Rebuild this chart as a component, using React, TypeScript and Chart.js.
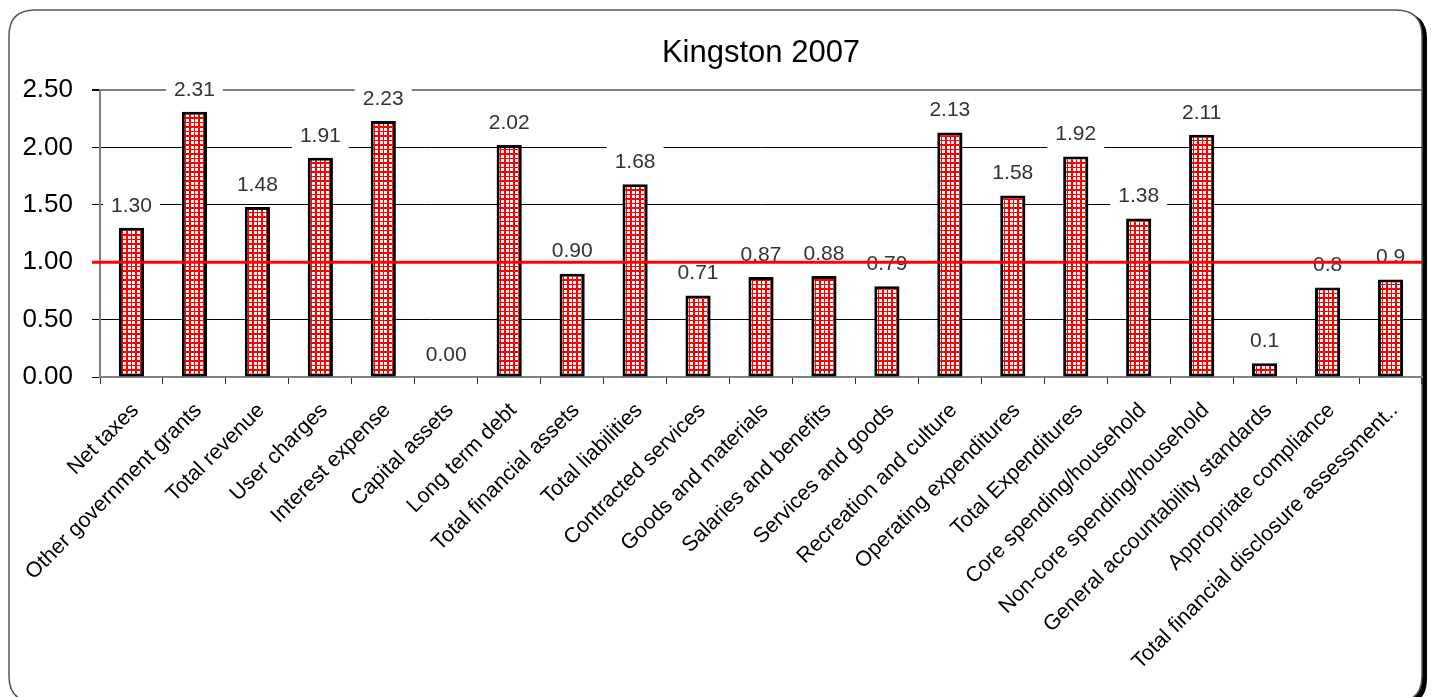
import React, { useEffect, useRef } from "react";
import { Chart, registerables } from "chart.js";

Chart.register(...registerables);

const TITLE = "Kingston 2007";

const categories = [
  "Net taxes",
  "Other government grants",
  "Total revenue",
  "User charges",
  "Interest expense",
  "Capital assets",
  "Long term debt",
  "Total financial assets",
  "Total liabilities",
  "Contracted services",
  "Goods and materials",
  "Salaries and benefits",
  "Services and goods",
  "Recreation and culture",
  "Operating expenditures",
  "Total Expenditures",
  "Core spending/household",
  "Non-core spending/household",
  "General accountability standards",
  "Appropriate compliance",
  "Total financial disclosure assessment..",
];

const values = [
  1.3, 2.31, 1.48, 1.91, 2.23, 0.0, 2.02, 0.9, 1.68, 0.71, 0.87, 0.88, 0.79,
  2.13, 1.58, 1.92, 1.38, 2.11, 0.12, 0.78, 0.85,
];

const valueLabels = [
  "1.30", "2.31", "1.48", "1.91", "2.23", "0.00", "2.02", "0.90", "1.68",
  "0.71", "0.87", "0.88", "0.79", "2.13", "1.58", "1.92", "1.38", "2.11",
  "0.1", "0.8", "0.9",
];

const Y_MIN = 0;
const Y_MAX = 2.5;
const Y_STEP = 0.5;
const REFERENCE_VALUE = 1.0;

const FONT = '"Liberation Sans", Arial, sans-serif';

function makePattern(): CanvasPattern | string {
  const c = document.createElement("canvas");
  c.width = 9;
  c.height = 9;
  const g = c.getContext("2d");
  if (!g) return "#ff0000";
  g.fillStyle = "#ff0000";
  g.fillRect(0, 0, 9, 9);
  g.fillStyle = "#ffffff";
  const cells = [
    [2, 3],
    [6, 3],
  ];
  for (const [x0, w] of cells) {
    for (const [y0, h] of cells) {
      g.fillRect(x0, y0, w, h);
    }
  }
  return g.createPattern(c, "repeat") || "#ff0000";
}

function roundRectPath(
  ctx: CanvasRenderingContext2D,
  x: number,
  y: number,
  w: number,
  h: number,
  r: number
) {
  ctx.beginPath();
  ctx.moveTo(x + r, y);
  ctx.lineTo(x + w - r, y);
  ctx.quadraticCurveTo(x + w, y, x + w, y + r);
  ctx.lineTo(x + w, y + h - r);
  ctx.quadraticCurveTo(x + w, y + h, x + w - r, y + h);
  ctx.lineTo(x + r, y + h);
  ctx.quadraticCurveTo(x, y + h, x, y + h - r);
  ctx.lineTo(x, y + r);
  ctx.quadraticCurveTo(x, y, x + r, y);
  ctx.closePath();
}

const framePlugin = {
  id: "frame",
  beforeDraw(chart: any) {
    const ctx = chart.ctx as CanvasRenderingContext2D;
    ctx.save();
    ctx.fillStyle = "#ffffff";
    ctx.fillRect(0, 0, chart.width, chart.height);
    // shadow
    roundRectPath(ctx, 14, 13, 1413, 692, 26);
    ctx.fillStyle = "#000000";
    ctx.fill();
    // box
    roundRectPath(ctx, 9, 10, 1413, 692, 26);
    ctx.fillStyle = "#ffffff";
    ctx.fill();
    ctx.lineWidth = 1.5;
    ctx.strokeStyle = "#555555";
    ctx.stroke();
    // title
    const area = chart.chartArea;
    ctx.fillStyle = "#000000";
    ctx.font = `31px ${FONT}`;
    ctx.textAlign = "center";
    ctx.textBaseline = "alphabetic";
    ctx.fillText(TITLE, (area.left + area.right) / 2, 62);
    ctx.restore();
  },
};

const labelPlugin = {
  id: "barLabels",
  afterDatasetsDraw(chart: any) {
    const ctx = chart.ctx as CanvasRenderingContext2D;
    const meta = chart.getDatasetMeta(0);
    ctx.save();
    ctx.font = `21px ${FONT}`;
    ctx.textAlign = "center";
    ctx.textBaseline = "middle";
    meta.data.forEach((el: any, i: number) => {
      const text = valueLabels[i];
      const w = ctx.measureText(text).width;
      const cx = el.x;
      const cy = el.y - 23;
      ctx.fillStyle = "#ffffff";
      ctx.fillRect(cx - w / 2 - 8, cy - 15, w + 16, 30);
      ctx.fillStyle = "#333333";
      ctx.fillText(text, cx, cy + 1);
    });
    // reference line
    const y = chart.scales.y.getPixelForValue(REFERENCE_VALUE);
    ctx.strokeStyle = "#ff0000";
    ctx.lineWidth = 3;
    ctx.beginPath();
    ctx.moveTo(chart.chartArea.left - 8, y);
    ctx.lineTo(chart.chartArea.right, y);
    ctx.stroke();
    ctx.restore();
  },
};

export default function App() {
  const ref = useRef<HTMLCanvasElement | null>(null);

  useEffect(() => {
    document.body.style.margin = "0";
    document.body.style.overflow = "hidden";
    const canvas = ref.current;
    if (!canvas) return;
    const pattern = makePattern();
    const chart = new Chart(canvas, {
      type: "bar",
      data: {
        labels: categories,
        datasets: [
          {
            data: values,
            backgroundColor: pattern as any,
            borderColor: "#000000",
            borderWidth: 3,
            borderSkipped: false,
            barPercentage: 0.4,
            categoryPercentage: 1,
          },
        ],
      },
      options: {
        responsive: false,
        animation: false,
        devicePixelRatio: 1,
        layout: { padding: { top: 90, right: 10, left: 0, bottom: 0 } },
        plugins: {
          legend: { display: false },
          title: { display: false },
          tooltip: { enabled: false },
        },
        scales: {
          x: {
            afterFit: (s: any) => {
              s.height = 320;
            },
            grid: {
              display: true,
              drawOnChartArea: false,
              drawTicks: true,
              tickLength: 7,
              tickColor: "#333333",
              offset: true,
            },
            border: { color: "#808080", width: 2 },
            ticks: {
              autoSkip: false,
              maxRotation: 45,
              minRotation: 45,
              padding: 14,
              labelOffset: 4,
              color: "#000000",
              font: { family: FONT, size: 21.5 },
            },
          },
          y: {
            min: Y_MIN,
            max: Y_MAX,
            afterFit: (s: any) => {
              s.width = 100;
            },
            grid: {
              color: (c: any) =>
                c.tick && Math.abs(c.tick.value - Y_MAX) < 1e-6 ? "#808080" : "#000000",
              lineWidth: (c: any) =>
                c.tick && Math.abs(c.tick.value - Y_MAX) < 1e-6 ? 2 : 1,
              drawTicks: true,
              tickLength: 8,
              tickColor: "#000000",
            },
            border: { color: "#808080", width: 2 },
            ticks: {
              stepSize: Y_STEP,
              padding: 19,
              color: "#000000",
              font: { family: FONT, size: 26 },
              callback: (v: any) => Number(v).toFixed(2),
            },
          },
        },
      },
      plugins: [framePlugin, labelPlugin],
    });
    return () => chart.destroy();
  }, []);

  return (
    <div style={{ width: 1432, height: 697, overflow: "hidden" }}>
      <canvas ref={ref} width={1432} height={697} style={{ display: "block" }} />
    </div>
  );
}
